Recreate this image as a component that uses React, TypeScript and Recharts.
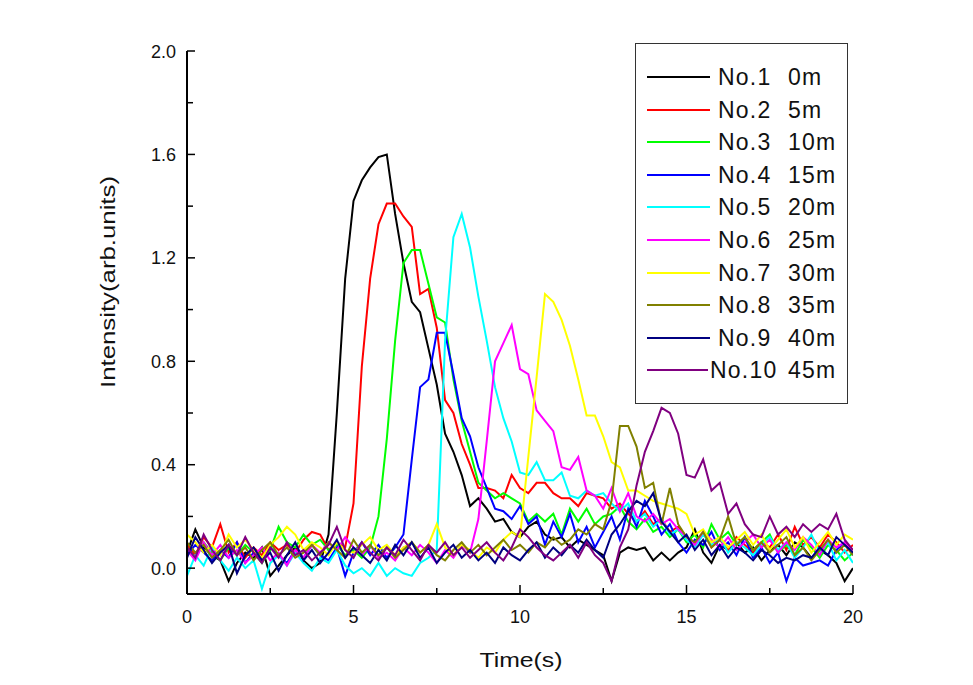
import React from 'react';
import { LineChart, Line, XAxis, YAxis, Legend } from 'recharts';

// sample times (s), one reading every 0.25 s
const times = [
  0, 0.25, 0.5, 0.75, 1, 1.25, 1.5, 1.75, 2, 2.25, 2.5, 2.75, 3, 3.25, 3.5, 3.75,
  4, 4.25, 4.5, 4.75, 5, 5.25, 5.5, 5.75, 6, 6.25, 6.5, 6.75, 7, 7.25, 7.5, 7.75,
  8, 8.25, 8.5, 8.75, 9, 9.25, 9.5, 9.75, 10, 10.25, 10.5, 10.75, 11, 11.25, 11.5, 11.75,
  12, 12.25, 12.5, 12.75, 13, 13.25, 13.5, 13.75, 14, 14.25, 14.5, 14.75, 15, 15.25, 15.5, 15.75,
  16, 16.25, 16.5, 16.75, 17, 17.25, 17.5, 17.75, 18, 18.25, 18.5, 18.75, 19, 19.25, 19.5, 19.75,
  20,
];

const no1 = [
  0.06, 0.15, 0.08, 0.05, 0.03, -0.05, 0.02, 0.06, 0.04, 0.08, -0.03, 0.01, 0.05, 0.08, 0.03, 0.0,
  0.02, 0.13, 0.6, 1.12, 1.42, 1.5, 1.55, 1.59, 1.6, 1.37, 1.18, 1.03, 0.99, 0.85, 0.71, 0.52,
  0.45, 0.36, 0.24, 0.27, 0.23, 0.18, 0.19, 0.14, 0.12, 0.16, 0.18, 0.13, 0.11, 0.12, 0.08, 0.11,
  0.09, 0.07, 0.05, -0.05, 0.06, 0.08, 0.07, 0.08, 0.03, 0.06, 0.03, 0.06, 0.08, 0.15, 0.06, 0.02,
  0.09, 0.07, 0.1, 0.06, 0.08, 0.03, 0.07, 0.09, 0.05, 0.1, 0.08, 0.04, 0.07, 0.05, 0.02, -0.05,
  0.0,
];
const no2 = [
  0.09, 0.05, 0.12, 0.08, 0.17, 0.06, 0.1, 0.04, 0.08, 0.05, 0.1, 0.07, 0.09, 0.06, 0.11, 0.14,
  0.13, 0.07, 0.1, 0.08, 0.25, 0.78, 1.12, 1.33, 1.41, 1.41, 1.36, 1.32, 1.06, 1.08, 0.93, 0.65,
  0.6, 0.48, 0.4, 0.31, 0.31, 0.3, 0.27, 0.36, 0.31, 0.29, 0.33, 0.33, 0.29, 0.27, 0.27, 0.24,
  0.29, 0.28, 0.27, 0.23, 0.25, 0.21, 0.18, 0.22, 0.17, 0.19, 0.14, 0.16, 0.12, 0.1, 0.14, 0.08,
  0.11, 0.07, 0.12, 0.09, 0.06, 0.1, 0.08, 0.13, 0.07, 0.16, 0.09, 0.12, 0.08, 0.13, 0.1, 0.06,
  0.09,
];
const no3 = [
  0.08, 0.04, 0.1, 0.06, 0.03, 0.08, 0.05, 0.09, 0.06, 0.02, 0.07, 0.16, 0.1, 0.08, 0.13, 0.09,
  0.11, 0.07, 0.09, 0.05, 0.07, 0.04, 0.08, 0.2, 0.5, 0.88, 1.18, 1.23, 1.23, 1.1, 0.97, 0.95,
  0.73, 0.57, 0.45, 0.33, 0.3, 0.27, 0.29, 0.27, 0.25, 0.18, 0.21, 0.18, 0.21, 0.13, 0.23, 0.18,
  0.23, 0.17, 0.2, 0.21, 0.24, 0.18, 0.15, 0.19, 0.14, 0.16, 0.12, 0.15, 0.1, 0.13, 0.08, 0.17,
  0.11, 0.14, 0.09, 0.12, 0.07, 0.1, 0.13, 0.06, 0.09, 0.05, 0.11, 0.08, 0.04, 0.09, 0.07, 0.03,
  0.06,
];
const no4 = [
  0.05, 0.09, 0.06, 0.03, 0.07, 0.04, 0.1, 0.02, 0.06, 0.03, 0.08, 0.05, 0.02, 0.07, 0.04, 0.09,
  0.05, 0.03, 0.08, -0.03, 0.06, 0.1, 0.05, 0.09, 0.04, 0.08, 0.13, 0.42, 0.7, 0.73, 0.91, 0.91,
  0.75, 0.58, 0.51, 0.39, 0.31, 0.23, 0.22, 0.19, 0.24, 0.17, 0.2, 0.09, 0.18, 0.12, 0.21, 0.1,
  0.16, 0.08, 0.14, 0.2, 0.11, 0.23, 0.16, 0.26, 0.2, 0.13, 0.17, 0.1, 0.06, 0.11, 0.09, 0.14,
  0.07, 0.1, 0.05, 0.12, 0.04, 0.08, 0.02, 0.06, -0.05, 0.04, 0.01, 0.02, 0.03, 0.01, 0.07, 0.1,
  0.05,
];
const no5 = [
  -0.03, 0.05, 0.01, 0.08, 0.03, -0.01, 0.04, 0.0, 0.03, -0.08, 0.02, 0.05, 0.01, 0.06, 0.02, -0.01,
  0.04, 0.02, 0.07, 0.01, -0.02, 0.0, -0.03, 0.02, -0.03, 0.0, -0.02, -0.03, 0.02, 0.04, 0.07, 0.88,
  1.28, 1.37, 1.24, 1.05, 0.88, 0.7, 0.58, 0.49, 0.37, 0.36, 0.41, 0.34, 0.34, 0.37, 0.28, 0.27,
  0.3, 0.28, 0.29, 0.25, 0.22, 0.25, 0.18, 0.21, 0.16, 0.19, 0.13, 0.15, 0.11, 0.08, 0.13, 0.09,
  0.12, 0.06, 0.1, 0.08, 0.05, 0.09, 0.12, 0.07, 0.1, 0.04, 0.08, 0.13, 0.06, 0.1, 0.03, 0.07,
  0.02,
];
const no6 = [
  0.07, 0.03, 0.1, 0.05, 0.09, 0.04, 0.07, 0.02, 0.05, 0.08, 0.03, 0.06, 0.01, 0.07, 0.04, 0.09,
  0.06, 0.1, 0.07, 0.12, 0.08, 0.05, 0.09, 0.04, 0.06, 0.03, 0.08, 0.05, 0.09, 0.06, 0.02, 0.07,
  0.04, 0.09, 0.06, 0.19, 0.49, 0.8, 0.87, 0.94, 0.77, 0.75, 0.61, 0.57, 0.53, 0.39, 0.38, 0.43,
  0.3, 0.28, 0.23, 0.31, 0.22, 0.29, 0.2, 0.18, 0.21, 0.17, 0.19, 0.15, 0.12, 0.09, 0.14, 0.11,
  0.08, 0.12, 0.07, 0.1, 0.13, 0.08, 0.11, 0.06, 0.1, 0.07, 0.12, 0.09, 0.05, 0.11, 0.08, 0.1,
  0.07,
];
const no7 = [
  0.13, 0.1, 0.06, 0.09, 0.05, 0.13, 0.08, 0.11, 0.07, 0.04, 0.09, 0.12, 0.16, 0.13, 0.07, 0.1,
  0.08, 0.05, 0.1, 0.07, 0.06, 0.09, 0.12, 0.07, 0.09, 0.05, 0.08, 0.1, 0.06, 0.09, 0.17, 0.08,
  0.05, 0.09, 0.07, 0.04, 0.08, 0.06, 0.11, 0.14, 0.12, 0.43, 0.74, 1.06, 1.03, 0.96, 0.86, 0.73,
  0.59, 0.59, 0.51, 0.41, 0.39, 0.3, 0.3, 0.28, 0.26, 0.25, 0.24, 0.23, 0.21, 0.13, 0.15, 0.1,
  0.12, 0.08, 0.11, 0.14, 0.09, 0.13, 0.07, 0.11, 0.15, 0.08, 0.12, 0.06, 0.1, 0.14, 0.09, 0.13,
  0.11,
];
const no8 = [
  0.1, 0.06, 0.09, 0.04, 0.07, 0.11, 0.05, 0.08, 0.03, 0.07, 0.1, 0.05, 0.08, 0.04, 0.06, 0.09,
  0.05, 0.1, 0.07, 0.04, 0.11, 0.06, 0.09, 0.05, 0.08, 0.04, 0.07, 0.1, 0.06, 0.09, 0.05, 0.03,
  0.07, 0.1, 0.06, 0.09, 0.05, 0.08, 0.11, 0.07, 0.09, 0.06, 0.1, 0.08, 0.12, 0.09, 0.11, 0.15,
  0.13, 0.17, 0.15, 0.26, 0.55, 0.55, 0.47, 0.31, 0.33, 0.17, 0.31, 0.17, 0.12, 0.1, 0.14, 0.08,
  0.11, 0.2, 0.09, 0.12, 0.07, 0.1, 0.06, 0.09, 0.12, 0.05, 0.08, 0.03, 0.07, 0.11, 0.06, 0.09,
  0.05,
];
const no9 = [
  0.04, 0.12, 0.07, 0.02, 0.06, 0.09, -0.02, 0.05, 0.08, 0.03, 0.06, -0.01, 0.05, 0.1, 0.03, 0.07,
  0.02, 0.06, 0.11, 0.04, 0.08, 0.05, 0.02, 0.07, 0.03, 0.09, 0.05, 0.1, 0.04, 0.08, 0.02, 0.06,
  0.09, 0.04, 0.07, 0.03, 0.06, 0.02, 0.08, 0.05, 0.03, 0.07, 0.1, 0.04, 0.08, 0.05, 0.09, 0.06,
  0.11, 0.07, 0.04, 0.13, 0.17, 0.22, 0.26, 0.24, 0.29, 0.18, 0.14, 0.1, 0.13, 0.07, 0.11, 0.05,
  0.09, 0.04, 0.08, 0.06, 0.03, 0.07, 0.05, 0.02, 0.04, 0.03, 0.05, 0.04, 0.08, 0.05, 0.12, 0.09,
  0.06,
];
const no10 = [
  0.08, 0.04, 0.13, 0.07, 0.03, 0.09, 0.05, 0.12, 0.06, 0.02, 0.08, 0.04, 0.1, 0.05, 0.07, 0.03,
  0.06, 0.09, 0.16, 0.07, 0.04, 0.1, 0.06, 0.03, 0.08, 0.05, 0.11, 0.07, 0.03, 0.09, 0.06, 0.1,
  0.05, 0.08, 0.04, 0.07, 0.1, 0.06, 0.03, 0.08, 0.15, 0.12, 0.08, 0.05, 0.03, 0.06, 0.09, 0.04,
  0.1, 0.05, 0.02, -0.05, 0.08, 0.15, 0.32, 0.45, 0.53, 0.62, 0.6, 0.52, 0.36, 0.35, 0.42, 0.3,
  0.33, 0.21, 0.25, 0.17, 0.13, 0.12, 0.2, 0.13, 0.16, 0.12, 0.17, 0.14, 0.17, 0.15, 0.21, 0.11,
  0.07,
];

const seriesNames = ['No.1', 'No.2', 'No.3', 'No.4', 'No.5', 'No.6', 'No.7', 'No.8', 'No.9', 'No.10'];
const distances = ['0m', '5m', '10m', '15m', '20m', '25m', '30m', '35m', '40m', '45m'];
const seriesColors = [
  '#000000', '#ff0000', '#00ff00', '#0000ff', '#00ffff',
  '#ff00ff', '#ffff00', '#808000', '#000080', '#800080',
];
const seriesValues = [no1, no2, no3, no4, no5, no6, no7, no8, no9, no10];

const xTicks = [0, 2.5, 5, 7.5, 10, 12.5, 15, 17.5, 20];
const yTicks = [0, 0.2, 0.4, 0.6, 0.8, 1.0, 1.2, 1.4, 1.6, 1.8, 2.0];

const data = times.map((t, i) => {
  const row: Record<string, number> = { t };
  seriesValues.forEach((vals, k) => {
    row['s' + k] = vals[i];
  });
  return row;
});

const FONT = '"Liberation Sans", Arial, Helvetica, sans-serif';

// Origin style: ticks point inwards, every other one is labelled
function renderLeftTick(props: any) {
  const { x, y, payload } = props;
  const v = payload.value as number;
  const major = Math.round(v * 10) % 4 === 0;
  return (
    <g>
      <line x1={x} x2={x + (major ? 8 : 6)} y1={y} y2={y} stroke="#000" strokeWidth={1.5} />
      {major && (
        <text x={x - 11} y={y + 6.5} textAnchor="end" fontSize={18} fontFamily={FONT} fill="#111">
          {v.toFixed(1)}
        </text>
      )}
    </g>
  );
}

function renderBottomTick(props: any) {
  const { x, y, payload } = props;
  const v = payload.value as number;
  const major = v % 5 === 0;
  return (
    <g>
      <line x1={x} x2={x} y1={y} y2={y - (major ? 9 : 6)} stroke="#000" strokeWidth={1.5} />
      {major && (
        <text x={x} y={y + 29} textAnchor="middle" fontSize={18} fontFamily={FONT} fill="#111">
          {v}
        </text>
      )}
    </g>
  );
}

function LegendBox() {
  return (
    <div
      style={{
        width: 213,
        height: 361,
        border: '1.5px solid #333',
        background: '#fff',
        boxSizing: 'border-box',
        position: 'relative',
        fontFamily: FONT,
        fontSize: 23,
        color: '#111',
      }}
    >
      {seriesNames.map((name, k) => {
        const wide = name.length > 4;
        return (
          <div key={name} style={{ position: 'absolute', left: 0, top: 17 + k * 32.6, width: '100%', height: 32 }}>
            <div
              style={{
                position: 'absolute',
                left: 11,
                top: 15,
                width: wide ? 61 : 63,
                height: 2,
                background: seriesColors[k],
              }}
            />
            <span style={{ position: 'absolute', left: wide ? 74 : 82, top: 0, lineHeight: '32px', letterSpacing: 1.2 }}>
              {name}
            </span>
            <span style={{ position: 'absolute', left: 152, top: 0, lineHeight: '32px', letterSpacing: 1.2 }}>
              {distances[k]}
            </span>
          </div>
        );
      })}
    </div>
  );
}

export default function App() {
  return (
    <div style={{ position: 'absolute', left: 0, top: 0, background: '#fff' }}>
      <LineChart width={973} height={685} data={data} margin={{ top: 51, right: 120, bottom: 51, left: 127 }}>
        <XAxis
          dataKey="t"
          type="number"
          domain={[0, 20]}
          ticks={xTicks}
          interval={0}
          height={40}
          tickSize={0}
          tickMargin={0}
          tickLine={false}
          tick={renderBottomTick}
          axisLine={{ stroke: '#000', strokeWidth: 2 }}
          allowDataOverflow
          label={(p: any) => {
            const vb = p.viewBox;
            return (
              <text
                x={vb.x + vb.width / 2 + 1}
                y={vb.y + 73}
                textAnchor="middle"
                fontSize={21}
                fontFamily={FONT}
                fill="#111"
                textLength={83}
                lengthAdjust="spacingAndGlyphs"
              >
                Time(s)
              </text>
            );
          }}
        />
        <XAxis
          xAxisId="top"
          orientation="top"
          dataKey="t"
          type="number"
          domain={[0, 20]}
          height={0}
          tick={false}
          tickLine={false}
          axisLine={{ stroke: '#000', strokeWidth: 2 }}
        />
        <YAxis
          type="number"
          domain={[-0.1, 2]}
          ticks={yTicks}
          interval={0}
          width={60}
          tickSize={0}
          tickMargin={0}
          tickLine={false}
          tick={renderLeftTick}
          axisLine={{ stroke: '#000', strokeWidth: 2 }}
          allowDataOverflow
          label={(p: any) => {
            const vb = p.viewBox;
            const cx = vb.x - 12;
            const cy = vb.y + 231;
            return (
              <text
                x={cx}
                y={cy}
                transform={`rotate(-90, ${cx}, ${cy})`}
                textAnchor="middle"
                fontSize={21}
                fontFamily={FONT}
                fill="#111"
                textLength={212}
                lengthAdjust="spacingAndGlyphs"
              >
                Intensity(arb.units)
              </text>
            );
          }}
        />
        <YAxis
          yAxisId="right"
          orientation="right"
          type="number"
          domain={[-0.1, 2]}
          width={0}
          tick={false}
          tickLine={false}
          axisLine={{ stroke: '#000', strokeWidth: 2 }}
        />
        {seriesNames.map((name, k) => (
          <Line
            key={name}
            type="linear"
            dataKey={'s' + k}
            name={name}
            stroke={seriesColors[k]}
            strokeWidth={2}
            dot={false}
            activeDot={false}
            isAnimationActive={false}
          />
        ))}
        <Legend
          layout="vertical"
          align="center"
          verticalAlign="middle"
          content={() => <LegendBox />}
          wrapperStyle={{ left: 635, top: 43, width: 213, height: 361 }}
        />
      </LineChart>
    </div>
  );
}
